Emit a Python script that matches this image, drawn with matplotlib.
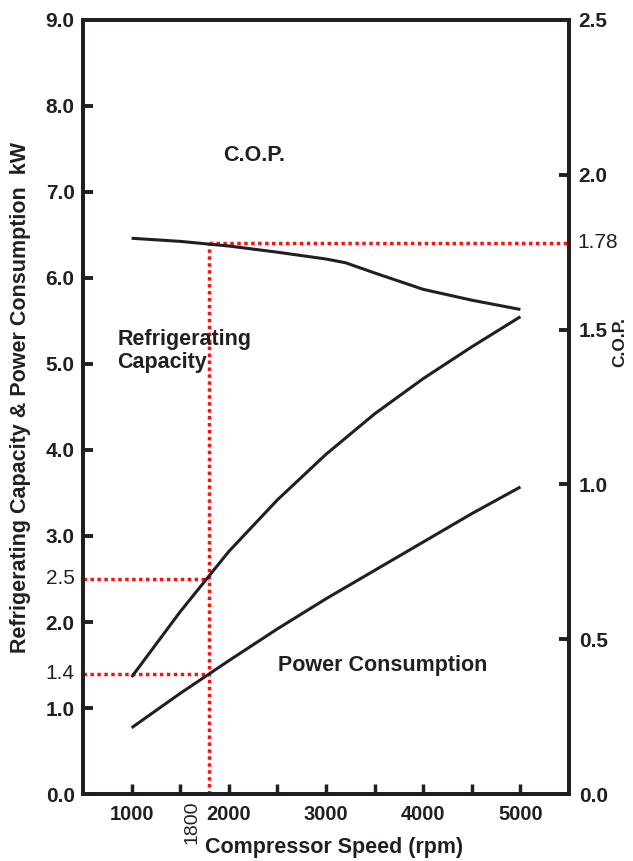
import numpy as np
import matplotlib.pyplot as plt
from matplotlib.transforms import blended_transform_factory

# curve readings (rpm, kW / COP)
speed_rpm = [1000, 1500, 2000, 2500, 3000, 3500, 4000, 4500, 5000]
refrig_capacity_kw = [1.36, 2.12, 2.82, 3.42, 3.95, 4.42, 4.83, 5.20, 5.55]
power_consumption_kw = [0.77, 1.17, 1.55, 1.92, 2.27, 2.60, 2.93, 3.26, 3.57]
cop_speed_rpm = [1000, 1500, 2000, 2500, 3000, 3200, 3500, 4000, 4500, 5000]
cop_values = [1.795, 1.785, 1.77, 1.75, 1.728, 1.716, 1.683, 1.63, 1.595, 1.565]

# reading guide at 1800 rpm
ref_rpm = 1800
ref_capacity = 2.5
ref_power = 1.4
ref_cop = 1.78

left_ticks = [0, 1, 2, 3, 4, 5, 6, 7, 8, 9]
right_ticks = [0, 0.5, 1.0, 1.5, 2.0, 2.5]
x_major = [1000, 2000, 3000, 4000, 5000]
x_minor = [1500, 2500, 3500, 4500]

ink = '#231f20'
plt.rcParams['font.family'] = ['Liberation Sans', 'DejaVu Sans']

fig = plt.figure(figsize=(6.33, 8.61), dpi=100)
ax = fig.add_axes([83 / 633, 1 - 794 / 861, 486 / 633, 774 / 861])
ax2 = ax.twinx()

ax.set_xlim(500, 5500)
ax.set_ylim(0, 9)
ax2.set_ylim(0, 2.5)

# curves
ax.plot(speed_rpm, refrig_capacity_kw, color=ink, lw=2.2, solid_capstyle='butt')
ax.plot(speed_rpm, power_consumption_kw, color=ink, lw=2.2, solid_capstyle='butt')
ax2.plot(cop_speed_rpm, cop_values, color=ink, lw=2.2, solid_capstyle='butt')

# red dotted guide lines
red_kw = dict(color='#ff1010', lw=2.5, linestyle=(0, (1, 1)), zorder=1)
ax.plot([500, ref_rpm], [ref_capacity, ref_capacity], **red_kw)
ax.plot([500, ref_rpm], [ref_power, ref_power], **red_kw)
ax.plot([ref_rpm, ref_rpm], [0, ref_cop * 9 / 2.5], **red_kw)
ax2.plot([ref_rpm, 5500], [ref_cop, ref_cop], **red_kw)

# spines and ticks
for a in (ax, ax2):
    for s in a.spines.values():
        s.set_linewidth(2.8)
        s.set_color(ink)

ax.set_xticks(x_major)
ax.set_xticks(x_minor, minor=True)
ax.set_xticklabels([str(v) for v in x_major])
ax.tick_params(axis='x', which='both', direction='in', length=7, width=2.5,
               colors=ink, labelsize=14.5, pad=8)
ax.set_yticks(left_ticks)
ax.set_yticklabels(['%.1f' % v for v in left_ticks])
ax.tick_params(axis='y', direction='in', length=7, width=2.8, colors=ink,
               labelsize=15, pad=6)
ax2.set_yticks(right_ticks)
ax2.set_yticklabels(['%.1f' % v for v in right_ticks])
ax2.tick_params(axis='y', direction='in', length=7, width=2.8, colors=ink,
                labelsize=15, pad=7)
for lab in ax.get_xticklabels() + ax.get_yticklabels() + ax2.get_yticklabels():
    lab.set_fontweight('bold')

# extra value labels (plain weight)
ax.text(-0.017, ref_capacity, '2.5', transform=blended_transform_factory(ax.transAxes, ax.transData),
        ha='right', va='center', fontsize=15, color=ink)
ax.text(-0.017, ref_power, '1.4', transform=blended_transform_factory(ax.transAxes, ax.transData),
        ha='right', va='center', fontsize=15, color=ink)
ax2.text(1.018, ref_cop, '1.78', transform=blended_transform_factory(ax2.transAxes, ax2.transData),
         ha='left', va='center', fontsize=15, color=ink)
ax.text(1620, -0.008, '1800', transform=blended_transform_factory(ax.transData, ax.transAxes),
        rotation=90, ha='center', va='top', fontsize=14, color=ink)

# axis labels
ax.set_xlabel('Compressor Speed (rpm)', fontsize=15.5, fontweight='bold', color=ink)
ax.xaxis.set_label_coords(0.516, -0.055)
ax.set_ylabel('Refrigerating Capacity & Power Consumption  kW', fontsize=15.5,
              fontweight='bold', color=ink)
ax.yaxis.set_label_coords(-0.108, 0.512)
ax2.set_ylabel('C.O.P.', fontsize=12.5, fontweight='bold', color=ink, rotation=90)
ax2.yaxis.set_label_coords(1.088, 0.584)

# curve names
ax.text(2265, 7.43, 'C.O.P.', ha='center', va='center', fontsize=15.5,
        fontweight='bold', color=ink)
ax.text(856, 5.15, 'Refrigerating\nCapacity', ha='left', va='center', fontsize=15.5,
        fontweight='bold', color=ink, linespacing=1.1)
ax.text(3581, 1.5, 'Power Consumption', ha='center', va='center', fontsize=15.5,
        fontweight='bold', color=ink)

fig.savefig('out.png', dpi=100)
